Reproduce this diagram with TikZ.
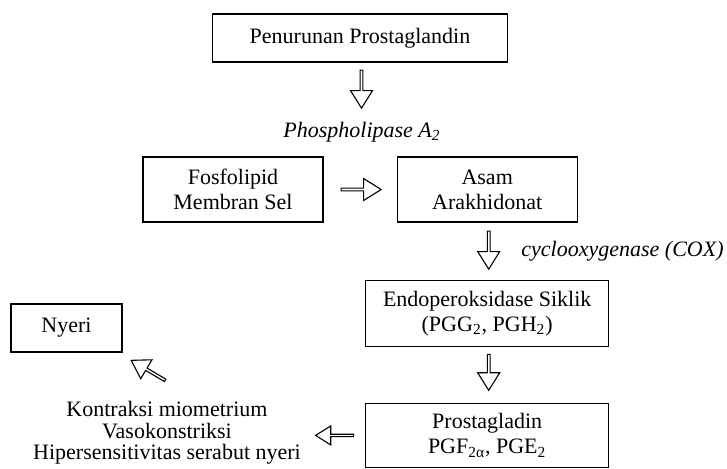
\documentclass[tikz,border=0pt]{standalone}
\usepackage{fontspec}
\setmainfont{Liberation Serif}
\usetikzlibrary{shapes.arrows, positioning, calc}

\begin{document}
\begin{tikzpicture}[x=0.5pt, y=-0.5pt, font=\fontsize{11}{12.5}\selectfont]
        % Styles
        \tikzset{
            kotak/.style={draw, line width=0.6pt, rectangle, align=center, inner sep=0pt},
            panah/.style={draw, line width=0.55pt, fill=white, single arrow, inner sep=0pt, minimum width=11pt, single arrow head extend=1.9pt, single arrow tip angle=64, anchor=tail},
            enzim/.style={font=\fontsize{11}{12.5}\selectfont\itshape, inner sep=0pt}
        }
        \useasboundingbox (0,0) rectangle (727,468);

        % Boxes
        \node [kotak, minimum width=147.5pt, minimum height=24pt] (turun) at (360,38) {Penurunan Prostaglandin};
        \node [enzim] (pla) at (362,132) {Phospholipase A\textsubscript{2}};
        \node [kotak, minimum width=90pt, minimum height=32.5pt] (fosfo) at (233,189.5) {Fosfolipid\\Membran Sel};
        \node [kotak, minimum width=90pt, minimum height=32.5pt, right=36.5pt of fosfo] (asam) {Asam\\Arakhidonat};
        \node [kotak, minimum width=121.5pt, minimum height=33pt, below=28.5pt of asam] (endo) {Endoperoksidase Siklik\\(PGG\textsubscript{2}, PGH\textsubscript{2})};
        \node [kotak, minimum width=121.5pt, minimum height=32pt, below=28pt of endo] (prosta) {Prostagladin\\PGF\textsubscript{2α}, PGE\textsubscript{2}};
        \node [enzim, anchor=west] (cox) at (521,251) {cyclooxygenase (COX)};
        \node [kotak, minimum width=55.5pt, minimum height=24pt] (nyeri) at (66.5,328) {Nyeri};
        \node [align=center, inner sep=0pt, font=\fontsize{11}{10.75}\selectfont] (efek) at (167,433) {Kontraksi miometrium\\Vasokonstriksi\\Hipersensitivitas serabut nyeri};

        % Arrows
        \node [panah, rotate=-90, minimum height=19pt] (a1) at ($(turun.south)+(1.5,7)$) {};
        \node [panah, minimum height=20pt] (a2) at ($(fosfo.east)+(17,0)$) {};
        \node [panah, rotate=-90, minimum height=19pt] (a3) at ($(asam.south)+(1.5,8)$) {};
        \node [panah, rotate=-90, minimum height=18pt] (a4) at ($(endo.south)+(1.5,7)$) {};
        \node [panah, rotate=180, minimum height=19pt, minimum width=9.5pt] (a5) at ($(prosta.west)+(-11,0)$) {};
        \node [panah, rotate=149.5, minimum height=19.7pt] (a6) at ($(nyeri.south east)+(43,28)$) {};
    \end{tikzpicture}
\end{document}
